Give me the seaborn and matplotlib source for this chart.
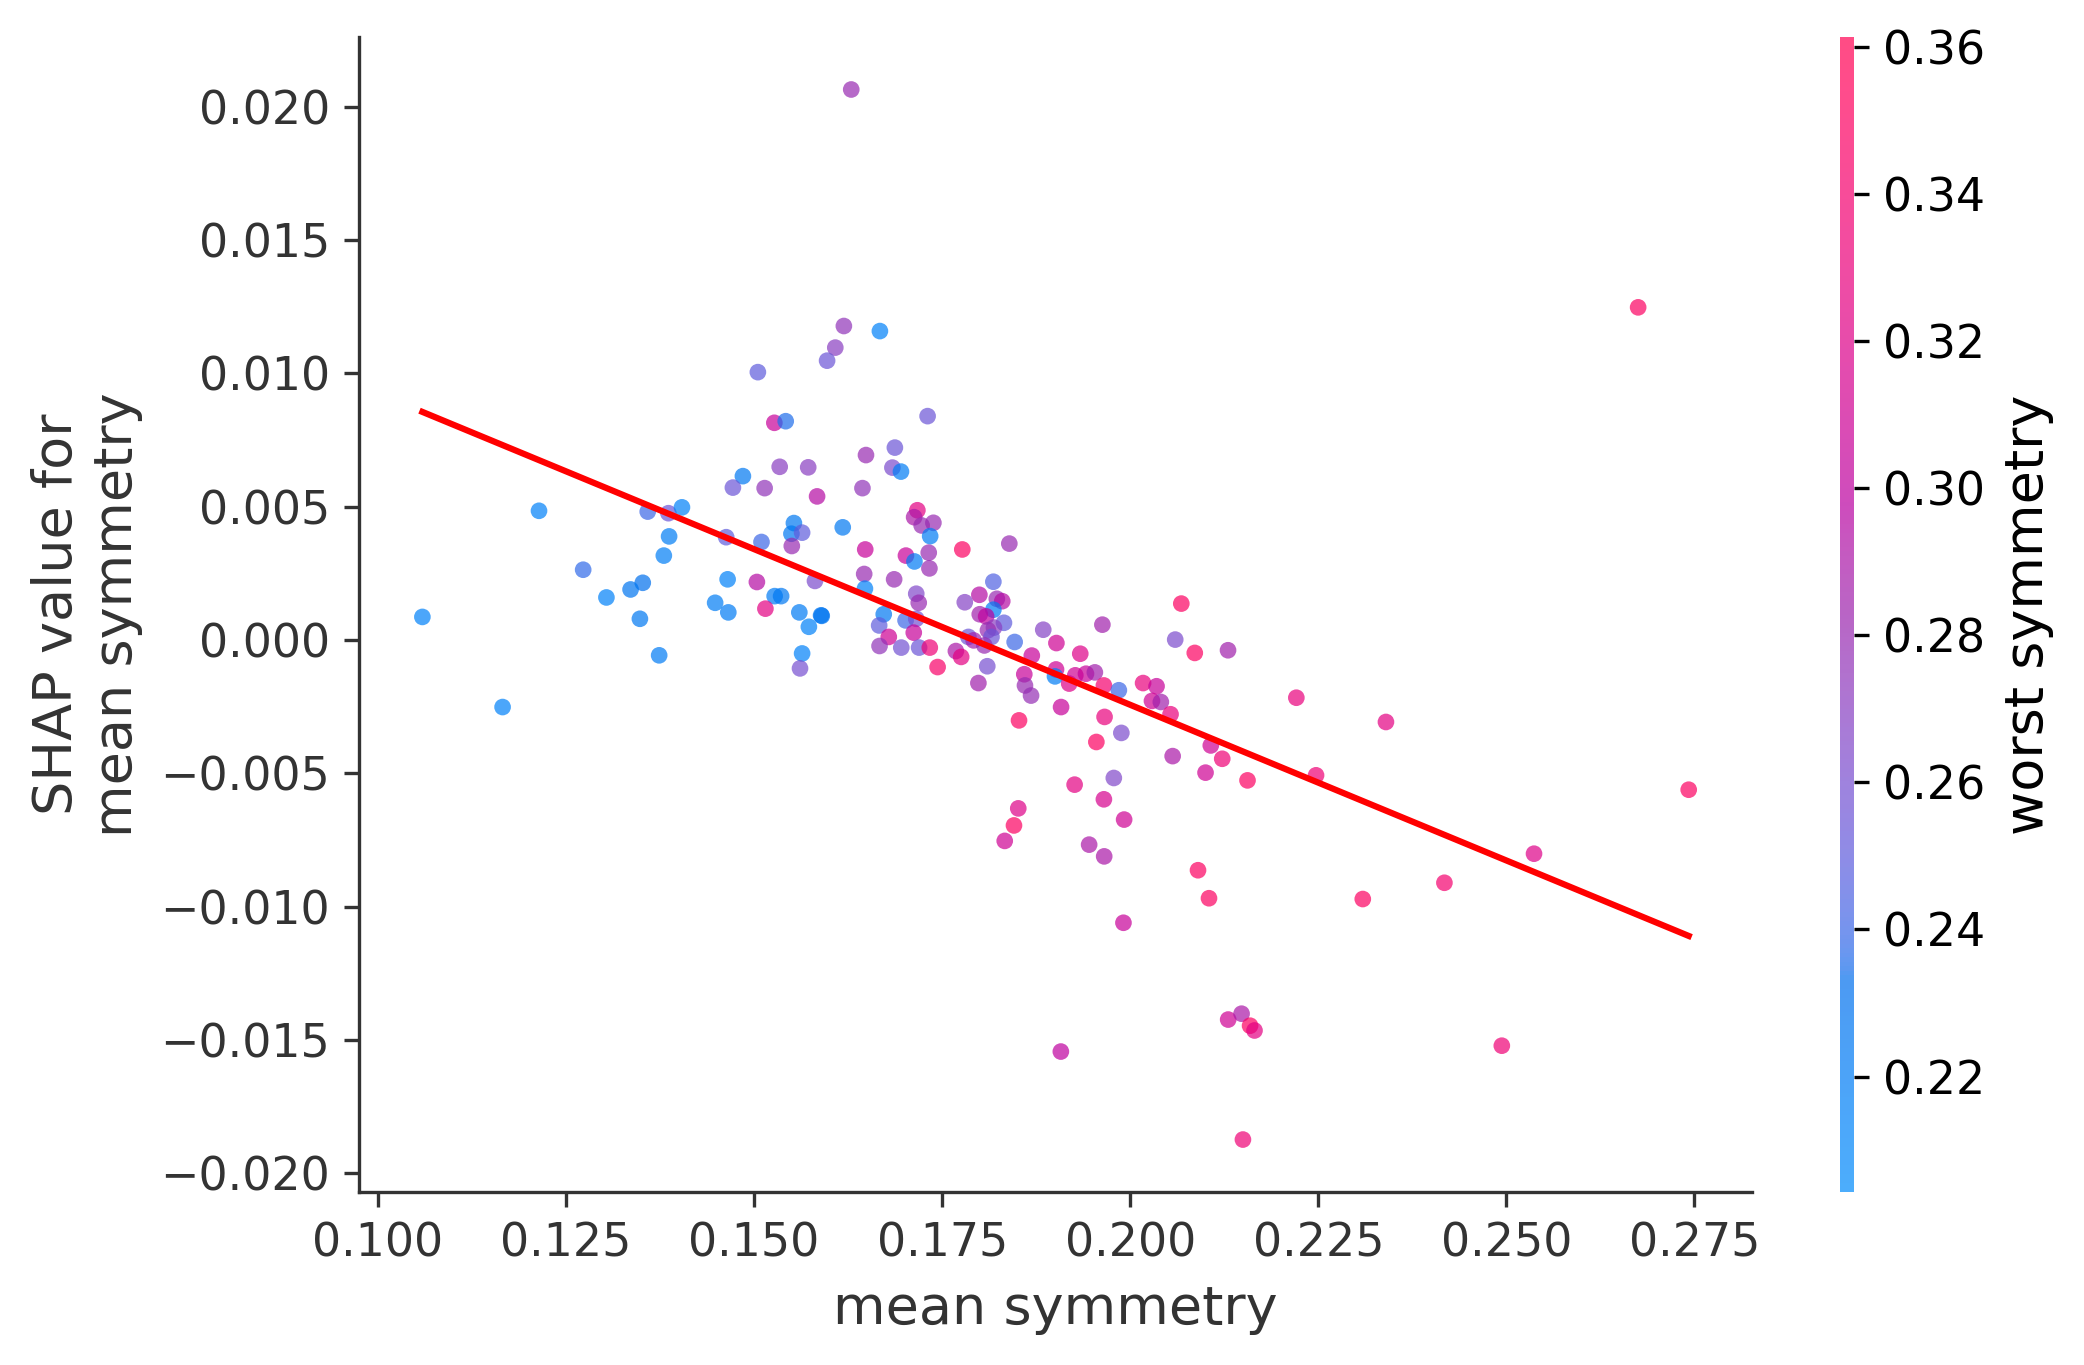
import numpy as np
import pandas as pd
import matplotlib
matplotlib.use("Agg")
import matplotlib.pyplot as plt
from matplotlib.colors import LinearSegmentedColormap, Normalize
import seaborn as sns

# ---------------- data ----------------
mean_symmetry = [
    0.16194, 0.16673, 0.16080, 0.15971, 0.15051, 0.17307, 0.15270, 0.15421, 0.16872, 0.16488,
    0.15341, 0.15720, 0.16839, 0.16953, 0.14852, 0.14719, 0.15141, 0.16441, 0.15838, 0.17171,
    0.17128, 0.17228, 0.17384, 0.17341, 0.12142, 0.13587, 0.13862, 0.14042, 0.13871, 0.13801,
    0.14630, 0.15099, 0.15530, 0.15497, 0.15639, 0.15502, 0.16179, 0.16478, 0.17019, 0.17132,
    0.17322, 0.17331, 0.12729, 0.13521, 0.13359, 0.13038, 0.10592, 0.15038, 0.14649, 0.15810,
    0.16464, 0.16862, 0.16474, 0.15274, 0.15360, 0.14483, 0.14658, 0.15151, 0.15602, 0.15891,
    0.15900, 0.15729, 0.15639, 0.15611, 0.13483, 0.13739, 0.11658, 0.16724, 0.16663, 0.17156,
    0.17189, 0.17014, 0.17156, 0.17123, 0.16791, 0.16668, 0.16957, 0.17194, 0.17336, 0.17440,
    0.17768, 0.18393, 0.18181, 0.17995, 0.17801, 0.18227, 0.18299, 0.18181, 0.18000, 0.18085,
    0.18322, 0.18189, 0.18109, 0.18156, 0.17849, 0.17919, 0.18061, 0.18464, 0.18844, 0.19019,
    0.19630, 0.19336, 0.18692, 0.17683, 0.17753, 0.18100, 0.17982, 0.18592, 0.18601, 0.18682,
    0.19014, 0.19000, 0.19189, 0.19270, 0.19412, 0.19530, 0.19650, 0.19849, 0.20171, 0.20350,
    0.20289, 0.20407, 0.20536, 0.19081, 0.18522, 0.19659, 0.19882, 0.19550, 0.20679, 0.20598,
    0.20858, 0.21300, 0.20564, 0.21071, 0.21223, 0.21001, 0.21559, 0.22208, 0.22470, 0.23399,
    0.19782, 0.19261, 0.19650, 0.19919, 0.18512, 0.18455, 0.18332, 0.19454, 0.19654, 0.20901,
    0.24176, 0.27423, 0.25367, 0.21047, 0.23091, 0.19910, 0.21302, 0.21480, 0.21593, 0.21652,
    0.24939, 0.21498, 0.19078, 0.26751, 0.16292,
]
shap_values = [
    0.01177, 0.01158, 0.01096, 0.01047, 0.01004, 0.00839, 0.00814, 0.00820, 0.00721, 0.00693,
    0.00649, 0.00647, 0.00646, 0.00631, 0.00614, 0.00571, 0.00569, 0.00569, 0.00538, 0.00486,
    0.00460, 0.00429, 0.00439, 0.00389, 0.00484, 0.00481, 0.00475, 0.00497, 0.00388, 0.00316,
    0.00385, 0.00367, 0.00438, 0.00398, 0.00402, 0.00352, 0.00422, 0.00339, 0.00316, 0.00294,
    0.00327, 0.00268, 0.00263, 0.00214, 0.00189, 0.00159, 0.00086, 0.00217, 0.00227, 0.00221,
    0.00247, 0.00227, 0.00192, 0.00164, 0.00164, 0.00139, 0.00103, 0.00117, 0.00103, 0.00092,
    0.00090, 0.00049, -0.00051, -0.00107, 0.00079, -0.00058, -0.00252, 0.00096, 0.00054, 0.00173,
    0.00139, 0.00073, 0.00079, 0.00027, 0.00011, -0.00023, -0.00029, -0.00029, -0.00029, -0.00102,
    0.00339, 0.00361, 0.00218, 0.00169, 0.00141, 0.00154, 0.00145, 0.00113, 0.00096, 0.00088,
    0.00064, 0.00046, 0.00036, 0.00011, 0.00011, -0.00002, -0.00021, -0.00008, 0.00038, -0.00012,
    0.00057, -0.00052, -0.00059, -0.00042, -0.00064, -0.00099, -0.00162, -0.00129, -0.00171, -0.00209,
    -0.00111, -0.00137, -0.00164, -0.00133, -0.00127, -0.00122, -0.00171, -0.00189, -0.00162, -0.00174,
    -0.00229, -0.00233, -0.00279, -0.00252, -0.00302, -0.00289, -0.00349, -0.00383, 0.00136, 0.00001,
    -0.00049, -0.00039, -0.00436, -0.00396, -0.00446, -0.00498, -0.00527, -0.00217, -0.00508, -0.00308,
    -0.00518, -0.00543, -0.00598, -0.00674, -0.00632, -0.00696, -0.00754, -0.00768, -0.00812, -0.00864,
    -0.00911, -0.00562, -0.00802, -0.00969, -0.00972, -0.01061, -0.01424, -0.01402, -0.01447, -0.01465,
    -0.01522, -0.01874, -0.01544, 0.01247, 0.02064,
]
worst_symmetry = [
    0.275, 0.215, 0.270, 0.255, 0.250, 0.255, 0.305, 0.235, 0.255, 0.280,
    0.270, 0.270, 0.262, 0.220, 0.225, 0.255, 0.275, 0.275, 0.295, 0.325,
    0.290, 0.280, 0.280, 0.220, 0.215, 0.240, 0.255, 0.215, 0.220, 0.218,
    0.250, 0.240, 0.225, 0.225, 0.250, 0.280, 0.225, 0.305, 0.305, 0.222,
    0.280, 0.280, 0.238, 0.232, 0.228, 0.215, 0.215, 0.295, 0.215, 0.262,
    0.280, 0.280, 0.215, 0.222, 0.225, 0.220, 0.222, 0.325, 0.222, 0.228,
    0.228, 0.215, 0.215, 0.260, 0.225, 0.222, 0.215, 0.225, 0.250, 0.265,
    0.280, 0.240, 0.258, 0.305, 0.310, 0.275, 0.258, 0.255, 0.335, 0.345,
    0.350, 0.280, 0.245, 0.295, 0.268, 0.280, 0.295, 0.222, 0.285, 0.300,
    0.250, 0.270, 0.280, 0.255, 0.255, 0.285, 0.280, 0.240, 0.268, 0.310,
    0.285, 0.320, 0.305, 0.290, 0.325, 0.260, 0.285, 0.305, 0.280, 0.278,
    0.310, 0.220, 0.320, 0.310, 0.305, 0.285, 0.340, 0.240, 0.330, 0.305,
    0.310, 0.285, 0.330, 0.305, 0.350, 0.330, 0.262, 0.350, 0.350, 0.262,
    0.350, 0.285, 0.290, 0.310, 0.335, 0.310, 0.350, 0.330, 0.335, 0.325,
    0.265, 0.325, 0.315, 0.310, 0.320, 0.350, 0.310, 0.290, 0.290, 0.350,
    0.340, 0.350, 0.320, 0.350, 0.350, 0.305, 0.310, 0.290, 0.350, 0.325,
    0.335, 0.335, 0.300, 0.350, 0.280,
]
color_range = [0.2043, 0.3613]
cbar_ticks = [0.22, 0.24, 0.26, 0.28, 0.30, 0.32, 0.34, 0.36]
x_ticks = [0.100, 0.125, 0.150, 0.175, 0.200, 0.225, 0.250, 0.275]
y_ticks = [-0.020, -0.015, -0.010, -0.005, 0.0, 0.005, 0.010, 0.015, 0.020]
x_label = "mean symmetry"
y_label = "SHAP value for\nmean symmetry"
c_label = "worst symmetry"

df = pd.DataFrame({"x": mean_symmetry, "y": shap_values, "c": worst_symmetry})

# ---------------- SHAP-style red_blue colormap (LCH interpolation) ----------------
def lab2rgb(L, a, b):
    fy = (L + 16.0) / 116.0
    fx = fy + a / 500.0
    fz = fy - b / 200.0

    def finv(t):
        return t ** 3 if t > 0.2068966 else (t - 16.0 / 116.0) / 7.787

    X = 0.95047 * finv(fx)
    Y = 1.00000 * finv(fy)
    Z = 1.08883 * finv(fz)
    r = 3.2404542 * X - 1.5371385 * Y - 0.4985314 * Z
    g = -0.9692660 * X + 1.8760108 * Y + 0.0415560 * Z
    bb = 0.0556434 * X - 0.2040259 * Y + 1.0572252 * Z
    out = []
    for c in (r, g, bb):
        c = 12.92 * c if c <= 0.0031308 else 1.055 * (max(c, 0) ** (1 / 2.4)) - 0.055
        out.append(min(max(c, 0.0), 1.0))
    return out


def lch2rgb(l, c, h):
    return lab2rgb(l, c * np.cos(h), c * np.sin(h))


blue_lch = [54.0, 70.0, 4.6588]
l_mid = 40.0
red_lch = [54.0, 90.0, 0.35470565 + 2 * np.pi]
nsteps = 100
l_vals = list(np.linspace(blue_lch[0], l_mid, nsteps // 2)) + list(np.linspace(l_mid, red_lch[0], nsteps // 2))
c_vals = np.linspace(blue_lch[1], red_lch[1], nsteps)
h_vals = np.linspace(blue_lch[2], red_lch[2], nsteps)
cols = [lch2rgb(l, c, h) for l, c, h in zip(l_vals, c_vals, h_vals)]
red_blue = LinearSegmentedColormap.from_list("red_blue", cols)

# ---------------- figure ----------------
plt.rcParams["font.family"] = ["DejaVu Sans"]
fig = plt.figure(figsize=(2084 / 300, 1365 / 300), dpi=300)
ax = fig.add_axes([0.1723, 0.1267, 0.6684, 0.8462])
cax = fig.add_axes([0.8829, 0.1267, 0.0067, 0.8462])

norm = Normalize(vmin=color_range[0], vmax=color_range[1])
sns.scatterplot(data=df, x="x", y="y", hue="c", palette=red_blue, hue_norm=norm,
                s=16, linewidth=0, alpha=0.7, legend=False, ax=ax)
sns.regplot(data=df, x="x", y="y", scatter=False, ci=None, color="red",
            line_kws={"linewidth": 1.5}, ax=ax)

ax.set_xlabel(x_label, fontsize=13, color="#333333")
ax.set_ylabel(y_label, fontsize=13, color="#333333")
ax.set_xticks(x_ticks)
ax.set_yticks(y_ticks)
ax.tick_params(labelsize=11, color="#333333", labelcolor="#333333")
for side in ("top", "right"):
    ax.spines[side].set_visible(False)
for side in ("left", "bottom"):
    ax.spines[side].set_color("#333333")
ax.set_facecolor("white")

sm = matplotlib.cm.ScalarMappable(norm=norm, cmap=red_blue)
sm.set_array([])
cb = fig.colorbar(sm, cax=cax, alpha=0.7, ticks=cbar_ticks)
cb.outline.set_visible(False)
cb.ax.tick_params(labelsize=11)
cb.set_label(c_label, fontsize=13)

fig.savefig("out.png", dpi=300, facecolor="white")
